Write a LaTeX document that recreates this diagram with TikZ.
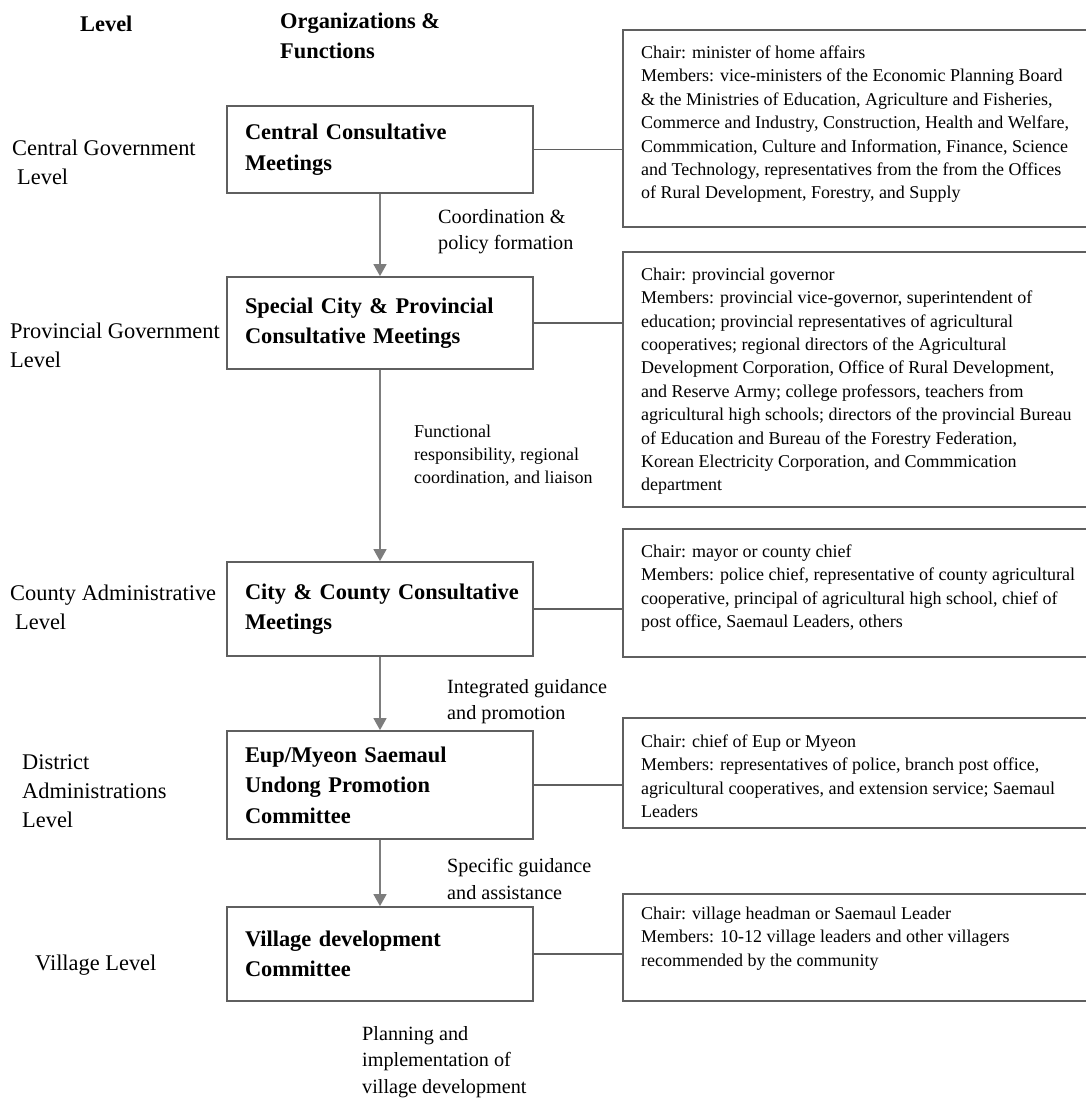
\documentclass[tikz,border=0pt]{standalone}
\usepackage{fontspec}
\setmainfont{Liberation Serif}
\usetikzlibrary{arrows.meta}
\definecolor{boxline}{RGB}{95,95,95}
\definecolor{arrowline}{RGB}{125,125,125}
\begin{document}
\begin{tikzpicture}[x=1pt,y=-1pt,
  orgbox/.style={draw=boxline, line width=1.8pt, minimum width=306pt, text width=270pt, inner xsep=18pt, inner ysep=0pt, align=left, font=\fontsize{22.4}{30.5}\selectfont\bfseries},
  infobox/.style={draw=boxline, line width=1.8pt, minimum width=469pt, inner sep=0pt},
  infotext/.style={anchor=north west, inner sep=0pt, align=left, font=\fontsize{18}{23.4}\selectfont},
  lvl/.style={anchor=north west, inner sep=0pt, align=left, font=\fontsize{22.4}{29}\selectfont},
  flow/.style={anchor=north west, inner sep=0pt, align=left, font=\fontsize{20.2}{26.5}\selectfont},
  flowsmall/.style={anchor=north west, inner sep=0pt, align=left, font=\fontsize{18}{23}\selectfont},
  head/.style={anchor=north west, inner sep=0pt, align=left, font=\fontsize{22.4}{30}\selectfont\bfseries},
  down/.style={draw=arrowline, line width=1.5pt, -{Triangle[width=13pt,length=12pt]}},
  link/.style={draw=boxline, line width=1.5pt}
]
\useasboundingbox (0,0) rectangle (1086,1098);
\fill[white] (0,0) rectangle (1086,1098);

% headers
\node[head] (hlevel) at (80,15.7) {Level};
\node[head] (horg) at (280,12.7) {Organizations \&\\Functions};

% level labels
\node[lvl] (l1) at (12,139.7) {Central Government\\\hspace*{5pt}Level};
\node[lvl] (l2) at (10,322.7) {Provincial Government\\Level};
\node[lvl] (l3) at (10,584.7) {County Administrative\\\hspace*{5pt}Level};
\node[lvl] (l4) at (22,754.7) {District\\Administrations\\Level};
\node[lvl] (l5) at (35,954.7) {Village Level};

% organisation boxes
\node[orgbox, minimum height=87pt] (c1) at (380,149.5) {\mbox{Central Consultative}\\Meetings};
\node[orgbox, minimum height=92pt] (p1) at (380,323) {\mbox{Special City \& Provincial}\\\mbox{Consultative Meetings}};
\node[orgbox, minimum height=94pt] (co1) at (380,609) {\mbox{City \& County Consultative}\\Meetings};
\node[orgbox, minimum height=108pt] (d1) at (380,785) {\mbox{Eup/Myeon Saemaul}\\\mbox{Undong Promotion}\\Committee};
\node[orgbox, minimum height=94pt] (v1) at (380,954) {\mbox{Village development}\\Committee};

% info boxes
\node[infobox, minimum height=197pt] (r1) at (857.5,128.5) {};
\node[infobox, minimum height=255pt] (r2) at (857.5,379.5) {};
\node[infobox, minimum height=128pt] (r3) at (857.5,593) {};
\node[infobox, minimum height=110pt] (r4) at (857.5,773) {};
\node[infobox, minimum height=107pt] (r5) at (857.5,947.5) {};

\node[infotext] (t1) at (641,45.7) {Chair: minister of home affairs\\
Members: vice-ministers of the Economic Planning Board\\
\& the Ministries of Education, Agriculture and Fisheries,\\
Commerce and Industry, Construction, Health and Welfare,\\
Commmication, Culture and Information, Finance, Science\\
and Technology, representatives from the from the Offices\\
of Rural Development, Forestry, and Supply};

\node[infotext] (t2) at (641,267.7) {Chair: provincial governor\\
Members: provincial vice-governor, superintendent of\\
education; provincial representatives of agricultural\\
cooperatives; regional directors of the Agricultural\\
Development Corporation, Office of Rural Development,\\
and Reserve Army; college professors, teachers from\\
agricultural high schools; directors of the provincial Bureau\\
of Education and Bureau of the Forestry Federation,\\
Korean Electricity Corporation, and Commmication\\
department};

\node[infotext] (t3) at (641,544.7) {Chair: mayor or county chief\\
Members: police chief, representative of county agricultural\\
cooperative, principal of agricultural high school, chief of\\
post office, Saemaul Leaders, others};

\node[infotext] (t4) at (641,734.7) {Chair: chief of Eup or Myeon\\
Members: representatives of police, branch post office,\\
agricultural cooperatives, and extension service; Saemaul\\
Leaders};

\node[infotext] (t5) at (641,906.7) {Chair: village headman or Saemaul Leader\\
Members: 10-12 village leaders and other villagers\\
recommended by the community};

% connectors to info boxes
\draw[link] (c1.east) -- (c1.east -| r1.west);
\draw[link] (p1.east) -- (p1.east -| r2.west);
\draw[link] (co1.east) -- (co1.east -| r3.west);
\draw[link] (d1.east) -- (d1.east -| r4.west);
\draw[link] (v1.east) -- (v1.east -| r5.west);

% downward arrows
\draw[down] (c1.south) -- (p1.north);
\draw[down] (p1.south) -- (co1.north);
\draw[down] (co1.south) -- (d1.north);
\draw[down] (d1.south) -- (v1.north);

% flow labels
\node[flow] (f1) at (438,209.2) {Coordination \&\\policy formation};
\node[flowsmall] (f2) at (414,424.7) {Functional\\responsibility, regional\\coordination, and liaison};
\node[flow] (f3) at (447,679.2) {Integrated guidance\\and promotion};
\node[flow] (f4) at (447,858.2) {Specific guidance\\and assistance};
\node[flow] (f5) at (362,1026.2) {Planning and\\implementation of\\village development};
\end{tikzpicture}
\end{document}
